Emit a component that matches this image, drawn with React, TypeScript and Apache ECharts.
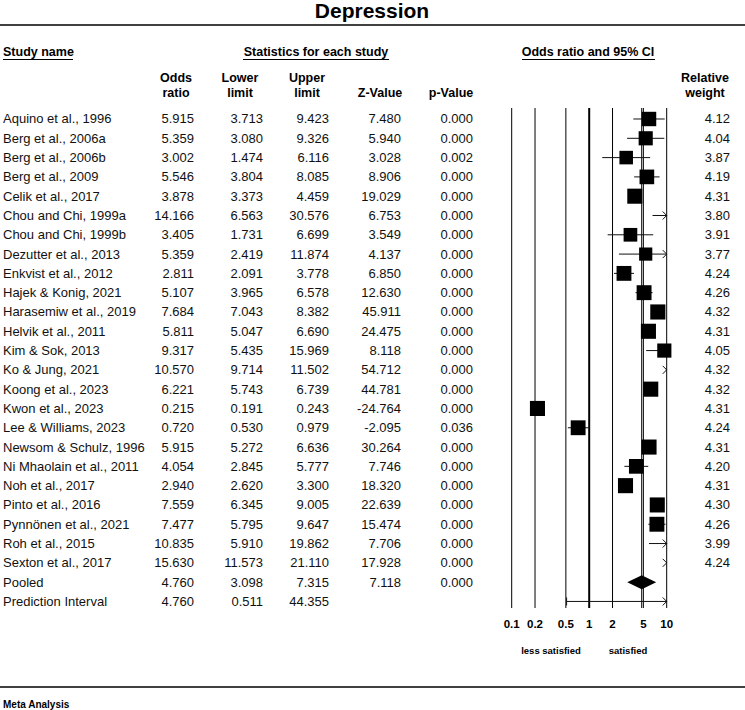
import React, { useEffect, useRef } from "react";
import * as echarts from "echarts";

const studyNames = [
  "Aquino et al., 1996", "Berg et al., 2006a", "Berg et al., 2006b", "Berg et al., 2009",
  "Celik et al., 2017", "Chou and Chi, 1999a", "Chou and Chi, 1999b", "Dezutter et al., 2013",
  "Enkvist et al., 2012", "Hajek & Konig, 2021", "Harasemiw et al., 2019", "Helvik et al., 2011",
  "Kim & Sok, 2013", "Ko & Jung, 2021", "Koong et al., 2023", "Kwon et al., 2023",
  "Lee & Williams, 2023", "Newsom & Schulz, 1996", "Ni Mhaolain et al., 2011", "Noh et al., 2017",
  "Pinto et al., 2016", "Pynnönen et al., 2021", "Roh et al., 2015", "Sexton et al., 2017",
];
const oddsRatio = [5.915, 5.359, 3.002, 5.546, 3.878, 14.166, 3.405, 5.359, 2.811, 5.107, 7.684, 5.811, 9.317, 10.570, 6.221, 0.215, 0.720, 5.915, 4.054, 2.940, 7.559, 7.477, 10.835, 15.630];
const lowerLimit = [3.713, 3.080, 1.474, 3.804, 3.373, 6.563, 1.731, 2.419, 2.091, 3.965, 7.043, 5.047, 5.435, 9.714, 5.743, 0.191, 0.530, 5.272, 2.845, 2.620, 6.345, 5.795, 5.910, 11.573];
const upperLimit = [9.423, 9.326, 6.116, 8.085, 4.459, 30.576, 6.699, 11.874, 3.778, 6.578, 8.382, 6.690, 15.969, 11.502, 6.739, 0.243, 0.979, 6.636, 5.777, 3.300, 9.005, 9.647, 19.862, 21.110];
const zValue = [7.480, 5.940, 3.028, 8.906, 19.029, 6.753, 3.549, 4.137, 6.850, 12.630, 45.911, 24.475, 8.118, 54.712, 44.781, -24.764, -2.095, 30.264, 7.746, 18.320, 22.639, 15.474, 7.706, 17.928];
const pValue = [0.000, 0.000, 0.002, 0.000, 0.000, 0.000, 0.000, 0.000, 0.000, 0.000, 0.000, 0.000, 0.000, 0.000, 0.000, 0.000, 0.036, 0.000, 0.000, 0.000, 0.000, 0.000, 0.000, 0.000];
const relWeight = [4.12, 4.04, 3.87, 4.19, 4.31, 3.80, 3.91, 3.77, 4.24, 4.26, 4.32, 4.31, 4.05, 4.32, 4.32, 4.31, 4.24, 4.31, 4.20, 4.31, 4.30, 4.26, 3.99, 4.24];

// Pooled: odds ratio, lower, upper, z, p
const pooledRow = [4.760, 3.098, 7.315, 7.118, 0.000];
// Prediction interval: odds ratio, lower, upper
const predictionRow = [4.760, 0.511, 44.355];

const tickValues = [0.1, 0.2, 0.5, 1, 2, 5, 10];
const tickLabels = ["0.1", "0.2", "0.5", "1", "2", "5", "10"];

const FONT = "'Liberation Sans', Arial, Helvetica, sans-serif";
const X_MIN = 0.1;
const X_MAX = 10;
const Y_MIN = -0.57;
const Y_MAX = 25.34;
const INK = "#111";

const POOLED_IDX = studyNames.length;
const PRED_IDX = studyNames.length + 1;

const fmt = (v: number) => v.toFixed(3);

type Row = { name: string; cells: string[]; weight: string };
const tableRows: Row[] = [
  ...studyNames.map((n, i) => ({
    name: n,
    cells: [fmt(oddsRatio[i]), fmt(lowerLimit[i]), fmt(upperLimit[i]), fmt(zValue[i]), fmt(pValue[i])],
    weight: relWeight[i].toFixed(2),
  })),
  { name: "Pooled", cells: pooledRow.map(fmt), weight: "" },
  { name: "Prediction Interval", cells: predictionRow.map(fmt), weight: "" },
];

const colRight = [194, 263, 329, 401, 473];
const weightRight = 730;

function chevron(x: number, y: number, dir: number) {
  return {
    type: "polyline",
    shape: { points: [[x - dir * 4, y - 4], [x, y], [x - dir * 4, y + 4]] },
    style: { stroke: INK, lineWidth: 1, fill: "none" },
  };
}

export default function App() {
  const ref = useRef<HTMLDivElement>(null);
  useEffect(() => {
    document.body.style.margin = "0";
    if (!ref.current) return;
    const chart = echarts.init(ref.current, undefined, { renderer: "svg" });

    const headerBold = (text: string, x: number, y: number, align = "center", size = 12.5) => ({
      type: "text",
      x,
      y,
      style: { text, fill: "#000", fontFamily: FONT, fontWeight: "bold", fontSize: size, align, verticalAlign: "middle" },
    });
    const hline = (x1: number, x2: number, y: number, w = 1) => ({
      type: "line",
      shape: { x1, y1: y, x2, y2: y },
      style: { stroke: "#000", lineWidth: w },
    });

    const option: any = {
      animation: false,
      backgroundColor: "#fff",
      grid: { left: 511.7, width: 155, top: 108, height: 500 },
      xAxis: {
        type: "log",
        logBase: 10,
        min: X_MIN,
        max: X_MAX,
        axisLine: { show: false },
        axisTick: { show: false },
        splitLine: { show: false },
        axisLabel: {
          customValues: tickValues,
          formatter: (v: number) => {
            const k = tickValues.findIndex((t) => Math.abs(t - v) < 1e-9);
            return k >= 0 ? tickLabels[k] : "";
          },
          fontFamily: FONT,
          fontWeight: "bold",
          fontSize: 11.5,
          color: "#000",
          margin: 10,
        },
      },
      yAxis: { type: "value", inverse: true, min: Y_MIN, max: Y_MAX, show: false },
      series: [
        {
          type: "custom",
          name: "gridLines",
          data: tickValues.map((v) => [v, 0]),
          encode: { x: 0, y: 1 },
          renderItem: (params: any, api: any) => {
            const v = tickValues[params.dataIndex];
            const top = api.coord([v, Y_MIN]);
            const bot = api.coord([v, Y_MAX]);
            return {
              type: "line",
              shape: { x1: top[0], y1: top[1], x2: bot[0], y2: bot[1] },
              style: { stroke: "#000", lineWidth: v === 1 ? 2 : 1 },
            };
          },
        },
        {
          type: "custom",
          name: "pooledLine",
          data: [[pooledRow[0], 0]],
          encode: { x: 0, y: 1 },
          renderItem: (_p: any, api: any) => {
            const top = api.coord([pooledRow[0], Y_MIN]);
            const bot = api.coord([pooledRow[0], Y_MAX]);
            return {
              type: "line",
              shape: { x1: top[0], y1: top[1], x2: bot[0], y2: bot[1] },
              style: { stroke: "#000", lineWidth: 1 },
            };
          },
        },
        {
          type: "custom",
          name: "studies",
          data: oddsRatio.map((v, i) => [Math.min(Math.max(v, X_MIN), X_MAX), i]),
          encode: { x: 0, y: 1 },
          renderItem: (params: any, api: any) => {
            const i = params.dataIndex;
            const or = oddsRatio[i];
            const lo = lowerLimit[i];
            const hi = upperLimit[i];
            const y = api.coord([1, i])[1];
            const xMax = api.coord([X_MAX, i])[0];
            const xMin = api.coord([X_MIN, i])[0];
            const children: any[] = [];
            if (lo < X_MAX && hi > X_MIN) {
              const x1 = api.coord([Math.max(lo, X_MIN), i])[0];
              const x2 = api.coord([Math.min(hi, X_MAX), i])[0];
              children.push({ type: "line", shape: { x1, y1: y, x2, y2: y }, style: { stroke: INK, lineWidth: 1 } });
            }
            if (hi > X_MAX) children.push(chevron(xMax, y, 1));
            if (lo < X_MIN) children.push(chevron(xMin, y, -1));
            if (or >= X_MIN && or <= X_MAX) {
              const s = relWeight[i] * 3.5;
              const cx = api.coord([or, i])[0];
              children.push({
                type: "rect",
                shape: { x: cx - s / 2, y: y - s / 2, width: s, height: s },
                style: { fill: "#000" },
              });
            }
            return { type: "group", children };
          },
        },
        {
          type: "custom",
          name: "pooled",
          data: [[pooledRow[0], POOLED_IDX]],
          encode: { x: 0, y: 1 },
          renderItem: (_p: any, api: any) => {
            const c = api.coord([pooledRow[0], POOLED_IDX]);
            const l = api.coord([pooledRow[1], POOLED_IDX]);
            const r = api.coord([pooledRow[2], POOLED_IDX]);
            return {
              type: "polygon",
              shape: { points: [[l[0], c[1]], [c[0], c[1] - 7], [r[0], c[1]], [c[0], c[1] + 7]] },
              style: { fill: "#000" },
            };
          },
        },
        {
          type: "custom",
          name: "prediction",
          data: [[predictionRow[0], PRED_IDX]],
          encode: { x: 0, y: 1 },
          renderItem: (_p: any, api: any) => {
            const l = api.coord([Math.max(predictionRow[1], X_MIN), PRED_IDX]);
            const r = api.coord([Math.min(predictionRow[2], X_MAX), PRED_IDX]);
            const y = l[1];
            const children: any[] = [
              { type: "line", shape: { x1: l[0], y1: y, x2: r[0], y2: y }, style: { stroke: INK, lineWidth: 1 } },
              { type: "line", shape: { x1: l[0], y1: y - 4, x2: l[0], y2: y + 4 }, style: { stroke: INK, lineWidth: 1 } },
            ];
            if (predictionRow[2] > X_MAX) children.push(chevron(r[0], y, 1));
            return { type: "group", children };
          },
        },
        {
          type: "custom",
          name: "table",
          clip: false,
          data: tableRows.map((_r, i) => [1, i]),
          encode: { x: 0, y: 1 },
          renderItem: (params: any, api: any) => {
            const i = params.dataIndex;
            const row = tableRows[i];
            const y = api.coord([1, i])[1];
            const base = { fill: INK, fontFamily: FONT, fontSize: 13, verticalAlign: "middle" };
            const children: any[] = [
              { type: "text", x: 3, y, style: { ...base, text: row.name, align: "left" } },
            ];
            row.cells.forEach((c, k) => {
              children.push({ type: "text", x: colRight[k], y, style: { ...base, text: c, align: "right" } });
            });
            if (row.weight) {
              children.push({ type: "text", x: weightRight, y, style: { ...base, text: row.weight, align: "right" } });
            }
            return { type: "group", children };
          },
        },
      ],
      graphic: [
        headerBold("Depression", 372, 10, "center", 21),
        hline(0, 745, 25, 1.5),
        headerBold("Study name", 3, 52, "left"),
        hline(3, 73, 59.5),
        headerBold("Statistics for each study", 316, 52),
        hline(243, 389, 59.5),
        headerBold("Odds ratio and 95% CI", 588, 52),
        hline(522, 655, 59.5),
        headerBold("Odds", 176, 78),
        headerBold("ratio", 176, 93),
        headerBold("Lower", 240, 78),
        headerBold("limit", 240, 93),
        headerBold("Upper", 307, 78),
        headerBold("limit", 307, 93),
        headerBold("Z-Value", 380, 93),
        headerBold("p-Value", 451, 93),
        headerBold("Relative", 705, 78),
        headerBold("weight", 705, 93),
        headerBold("less satisfied", 551, 650, "center", 9.5),
        headerBold("satisfied", 628, 650, "center", 9.5),
        hline(0, 745, 687, 1.5),
        headerBold("Meta Analysis", 3, 704, "left", 10),
      ],
    };
    chart.setOption(option);
    return () => chart.dispose();
  }, []);
  return <div ref={ref} style={{ width: 745, height: 710 }} />;
}
